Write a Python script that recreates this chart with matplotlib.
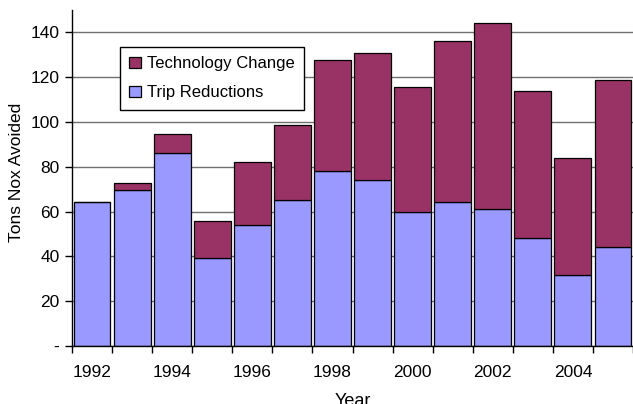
import matplotlib
matplotlib.use("Agg")
import matplotlib.pyplot as plt
import numpy as np

years = [1992, 1993, 1994, 1995, 1996, 1997, 1998, 1999, 2000, 2001, 2002, 2003, 2004, 2005]
trip_reductions = [64.5, 69.5, 86.0, 39.5, 54.2, 65.0, 78.2, 74.0, 60.0, 64.2, 61.1, 48.3, 31.5, 44.4]
totals = [64.5, 72.8, 94.5, 56.0, 82.0, 98.8, 127.8, 130.9, 115.6, 136.3, 144.3, 113.7, 84.0, 118.6]
technology_change = [t - r for t, r in zip(totals, trip_reductions)]
y_ticks = [0, 20, 40, 60, 80, 100, 120, 140]
y_tick_labels = ["-", "20", "40", "60", "80", "100", "120", "140"]

plt.rcParams['font.family'] = ['Liberation Sans', 'DejaVu Sans']

fig = plt.figure(figsize=(6.33, 4.04), dpi=100)
ax = fig.add_axes([72/633, 1 - 346/404, 561/633, 336/404])

x = np.arange(len(years))
w = 0.92
ax.bar(x, trip_reductions, width=w, color='#9999FF', edgecolor='black', linewidth=0.9,
       label='Trip Reductions', zorder=3)
ax.bar(x, technology_change, width=w, bottom=trip_reductions, color='#993366',
       edgecolor='black', linewidth=0.9, label='Technology Change', zorder=3)

ax.set_xlim(-0.5, len(years) - 0.5)
ax.set_ylim(0, 150)

# major ticks at category boundaries, labels at every other year
ax.set_xticks(np.arange(-0.5, len(years), 1.0))
ax.set_xticklabels([])
ax.set_xticks(x[::2], minor=True)
ax.set_xticklabels([str(y) for y in years[::2]], minor=True)
ax.tick_params(axis='x', which='major', direction='out', length=5, width=1, color='black')
ax.tick_params(axis='x', which='minor', length=0, pad=14, labelsize=12.5)

ax.set_yticks(y_ticks)
ax.set_yticklabels(y_tick_labels)
ax.tick_params(axis='y', direction='out', length=5, width=1, labelsize=12.5, pad=4)

ax.yaxis.grid(True, color='#707070', linewidth=1)
ax.set_axisbelow(True)
for s in ['top', 'right']:
    ax.spines[s].set_visible(False)
ax.spines['left'].set_linewidth(1)
ax.spines['bottom'].set_linewidth(1)
ax.spines['bottom'].set_zorder(4)

ax.set_ylabel('Tons Nox Avoided', fontsize=12.5)
ax.yaxis.set_label_coords(-0.0856, 0.518)
ax.set_xlabel('Year', fontsize=13, labelpad=9)

handles, labels = ax.get_legend_handles_labels()
leg = ax.legend(handles[::-1], labels[::-1], loc='upper left',
                bbox_to_anchor=((120 - 72) / 561, 1 - 37 / 336),
                fontsize=12, frameon=True, fancybox=False, framealpha=1,
                edgecolor='black', handlelength=0.7, handleheight=0.7,
                handletextpad=0.35, labelspacing=0.85, borderpad=0.55, borderaxespad=0)
leg.get_frame().set_linewidth(1)

fig.savefig('out.png', dpi=100)
